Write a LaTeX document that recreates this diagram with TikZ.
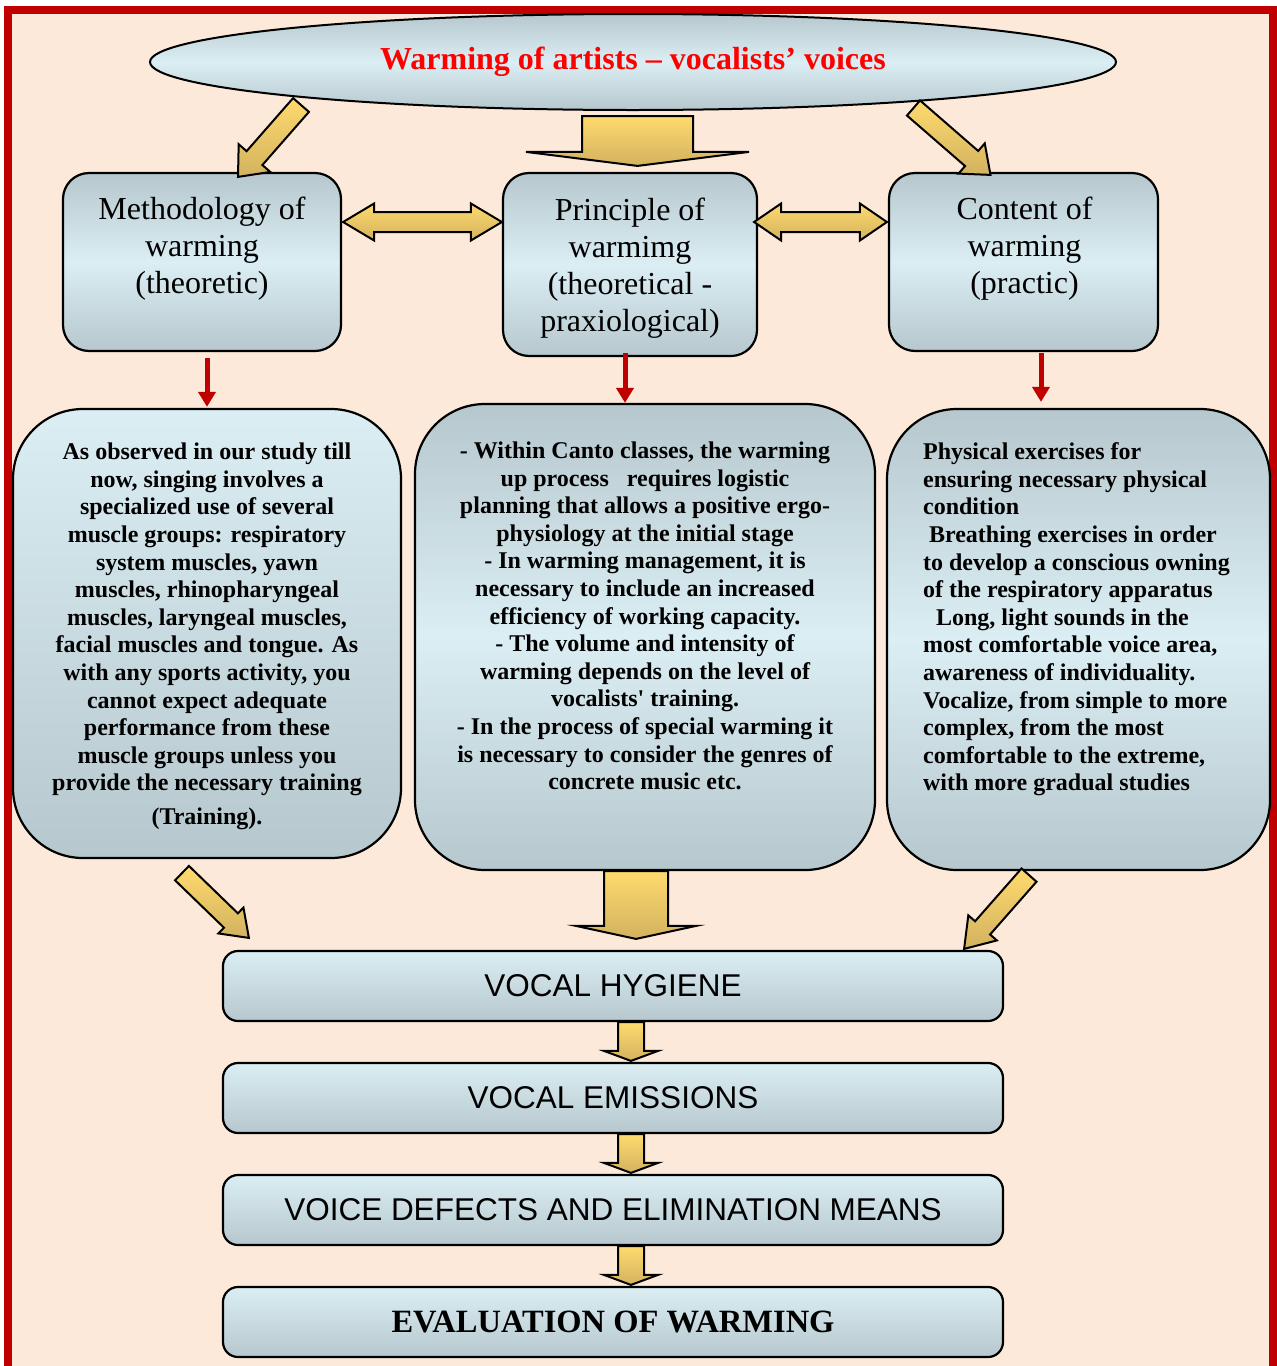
\documentclass[tikz,border=0pt]{standalone}
\usepackage{fontspec}
\setmainfont{Liberation Serif}
\newfontfamily\arialfont{Liberation Sans}
\usepackage{xcolor}
\usetikzlibrary{arrows.meta,positioning,calc,shapes.geometric}
\definecolor{peach}{HTML}{FDE9DA}
\definecolor{framered}{HTML}{C00000}
\definecolor{titlered}{HTML}{FF0000}
\definecolor{boxlite}{HTML}{DBEEF4}
\definecolor{boxgrey}{HTML}{B6C8CD}
\definecolor{goldlite}{HTML}{FFDA6E}
\definecolor{golddark}{HTML}{D2B25F}
\tikzset{
  ttlell/.style={ellipse,draw,line width=2pt,top color=boxgrey,bottom color=boxgrey,middle color=boxlite,minimum width=966pt,minimum height=96pt,inner sep=0pt,font=\bfseries\fontsize{32}{38}\selectfont,text=titlered},
  topbox/.style={draw,line width=2.2pt,rounded corners=26pt,top color=boxgrey,bottom color=boxgrey,middle color=boxlite},
  bigbox/.style={draw,line width=2.2pt,rounded corners=70pt,top color=boxgrey,bottom color=boxgrey,middle color=boxlite},
  bigboxlt/.style={draw,line width=2.2pt,rounded corners=70pt,top color=boxlite,bottom color=boxgrey},
  stagebox/.style={draw,line width=2.2pt,rounded corners=15pt,top color=boxlite,bottom color=boxgrey,minimum width=780pt,minimum height=70pt,inner sep=0pt,font=\arialfont\fontsize{31.5}{36}\selectfont},
  toptxt/.style={align=center,inner sep=0pt,font=\fontsize{32}{37}\selectfont},
  bodytxt/.style={align=center,inner sep=0pt,font=\bfseries\fontsize{24}{27.6}\selectfont},
  fatarr/.style={draw,line width=2pt,line join=miter,top color=goldlite,bottom color=golddark},
  redarr/.style={-{Triangle[length=15pt,width=17pt]},line width=5pt,draw=framered}
}
% tail, tip, half shaft, half head, head length
\newcommand\fatarrow[5]{%
  \coordinate (fa-b) at ($(#2)!#5pt!(#1)$);
  \draw[fatarr] ($(#1)!#3pt!90:(#2)$) -- ($(fa-b)!#3pt!-90:(#1)$) -- ($(fa-b)!#4pt!-90:(#1)$) -- (#2)
    -- ($(fa-b)!#4pt!90:(#1)$) -- ($(fa-b)!#3pt!90:(#1)$) -- ($(#1)!#3pt!-90:(#2)$) -- cycle;}
% left tip, right tip, half shaft, half head, head length
\newcommand\dblarrow[5]{%
  \draw[fatarr] (#1) -- ($(#1)+(#5,-#4)$) -- ($(#1)+(#5,-#3)$) -- ($(#2)+(-#5,-#3)$) -- ($(#2)+(-#5,-#4)$) -- (#2)
    -- ($(#2)+(-#5,#4)$) -- ($(#2)+(-#5,#3)$) -- ($(#1)+(#5,#3)$) -- ($(#1)+(#5,#4)$) -- cycle;}
\begin{document}
\begin{tikzpicture}[x=1pt,y=-1pt]
\useasboundingbox (0,0) rectangle (1277,1366);
\clip (0,0) rectangle (1277,1366);
\fill[white] (0,0) rectangle (1277,1366);
\draw[line width=8pt,draw=framered,fill=peach] (8,10) rectangle (1273,1420);

%% title
\node[ttlell] (ttl) at (633,62) {Warming of artists – vocalists’ voices};

%% three upper boxes
\node[topbox,minimum width=278pt,minimum height=178pt] (meth) at (202,262) {};
\node[topbox,minimum width=254pt,minimum height=183pt,right=159.8pt of meth.north east,anchor=north west] (prin) {};
\node[topbox,minimum width=269pt,minimum height=178pt,right=129.8pt of prin.north east,anchor=north west] (cont) {};
\node[toptxt] (methtxt) at ([shift={(0,-13)}]meth.center) {Methodology of\\warming\\(theoretic)};
\node[toptxt] (printxt) at ([shift={(0,4)}]prin.center) {Principle of\\warmimg\\(theoretical -\\praxiological)};
\node[toptxt] (conttxt) at ([shift={(1,-13)}]cont.center) {Content of\\warming\\(practic)};

%% three text boxes
\node[bigboxlt,minimum width=388pt,minimum height=449pt] (tL) at (207,633.5) {};
\node[bigbox,minimum width=460pt,minimum height=466pt] (tM) at (645,637) {};
\node[bigbox,minimum width=383pt,minimum height=461pt] (tR) at (1078.5,639.5) {};
\node[bodytxt] (tLtxt) at ([shift={(0,3)}]tL.center) {As observed in our study till\\now, singing involves a\\specialized use of several\\muscle groups: respiratory\\system muscles, yawn\\muscles, rhinopharyngeal\\muscles, laryngeal muscles,\\facial muscles and tongue. As\\with any sports activity, you\\cannot expect adequate\\performance from these\\muscle groups unless you\\provide the necessary training\\[6pt](Training).};
\node[bodytxt] (tMtxt) at ([shift={(0,-21)}]tM.center) {- Within Canto classes, the warming\\up process~~ requires logistic\\planning that allows a positive ergo-\\physiology at the initial stage\\- In warming management, it is\\necessary to include an increased\\efficiency of working capacity.\\- The volume and intensity of\\warming depends on the level of\\vocalists\textquotesingle{} training.\\- In the process of special warming it\\is necessary to consider the genres of\\concrete music etc.};
\node[bodytxt,align=left,anchor=west] (tRtxt) at ([shift={(37,-20)}]tR.west) {Physical exercises for\\ensuring necessary physical\\condition\\\hspace*{6pt}Breathing exercises in order\\to develop a conscious owning\\of the respiratory apparatus\\\hspace*{13pt}Long, light sounds in the\\most comfortable voice area,\\awareness of individuality.\\Vocalize, from simple to more\\complex, from the most\\comfortable to the extreme,\\with more gradual studies};

%% stages
\node[stagebox] (hyg) at (613,986) {VOCAL HYGIENE};
\node[stagebox,below=39.8pt of hyg] (emis) {VOCAL EMISSIONS};
\node[stagebox,below=39.8pt of emis] (defs) {VOICE DEFECTS AND ELIMINATION MEANS};
\node[stagebox,below=39.8pt of defs,font=\bfseries\fontsize{32.5}{36}\selectfont] (eval) {EVALUATION OF WARMING};

%% red arrows
\coordinate (r1) at ([shift={(5,6)}]meth.south);
\coordinate (r2) at ([shift={(-5,-4)}]prin.south);
\coordinate (r3) at ([shift={(17.5,1)}]cont.south);
\draw[redarr] (r1) -- ([shift={(0,-1)}]r1 |- tL.north);
\draw[redarr] (r2) -- ([shift={(0,0)}]r2 |- tM.north);
\draw[redarr] (r3) -- ([shift={(0,-6)}]r3 |- tR.north);

%% fat arrows
\coordinate (a1) at ([shift={(-332,43)}]ttl.center);
\coordinate (b1) at ([shift={(36,5)}]meth.north);
\coordinate (a2) at ([shift={(4.5,5)}]ttl.south);
\coordinate (b2) at ([shift={(0,-6)}]a2 |- prin.north);
\coordinate (a3) at ([shift={(280.5,46)}]ttl.center);
\coordinate (b3) at ([shift={(-33,3)}]cont.north);
\fatarrow{a1}{b1}{10.5}{21}{25}
\fatarrow{a2}{b2}{55.5}{111.5}{14}
\fatarrow{a3}{b3}{10}{20}{25}
\coordinate (d1) at ([shift={(1,-40)}]meth.east);
\coordinate (d2) at ([shift={(0,-42.5)}]prin.west);
\coordinate (d3) at ([shift={(-4,-42.5)}]prin.east);
\coordinate (d4) at ([shift={(-1,-40)}]cont.west);
\dblarrow{d1}{d2}{10}{18.5}{31}
\dblarrow{d3}{d4}{10}{18.5}{27}
\coordinate (a4) at ([shift={(-25,14)}]tL.south);
\coordinate (b4) at ([shift={(27,-12)}]hyg.north west);
\coordinate (a5) at ([shift={(-9,0)}]tM.south);
\coordinate (b5) at ([shift={(0,-11)}]a5 |- hyg.north);
\coordinate (a6) at ([shift={(-49.5,4)}]tR.south);
\coordinate (b6) at ([shift={(-40,-1)}]hyg.north east);
\fatarrow{a4}{b4}{10}{18}{25}
\fatarrow{a5}{b5}{32}{60}{13}
\fatarrow{a6}{b6}{10}{19}{28}
\foreach \u/\v in {hyg/emis,emis/defs,defs/eval}{
  \coordinate (s1) at ([shift={(18,0)}]\u.south);
  \coordinate (s2) at ([shift={(0,-1)}]s1 |- \v.north);
  \fatarrow{s1}{s2}{13}{27}{10}
}
\end{tikzpicture}
\end{document}
